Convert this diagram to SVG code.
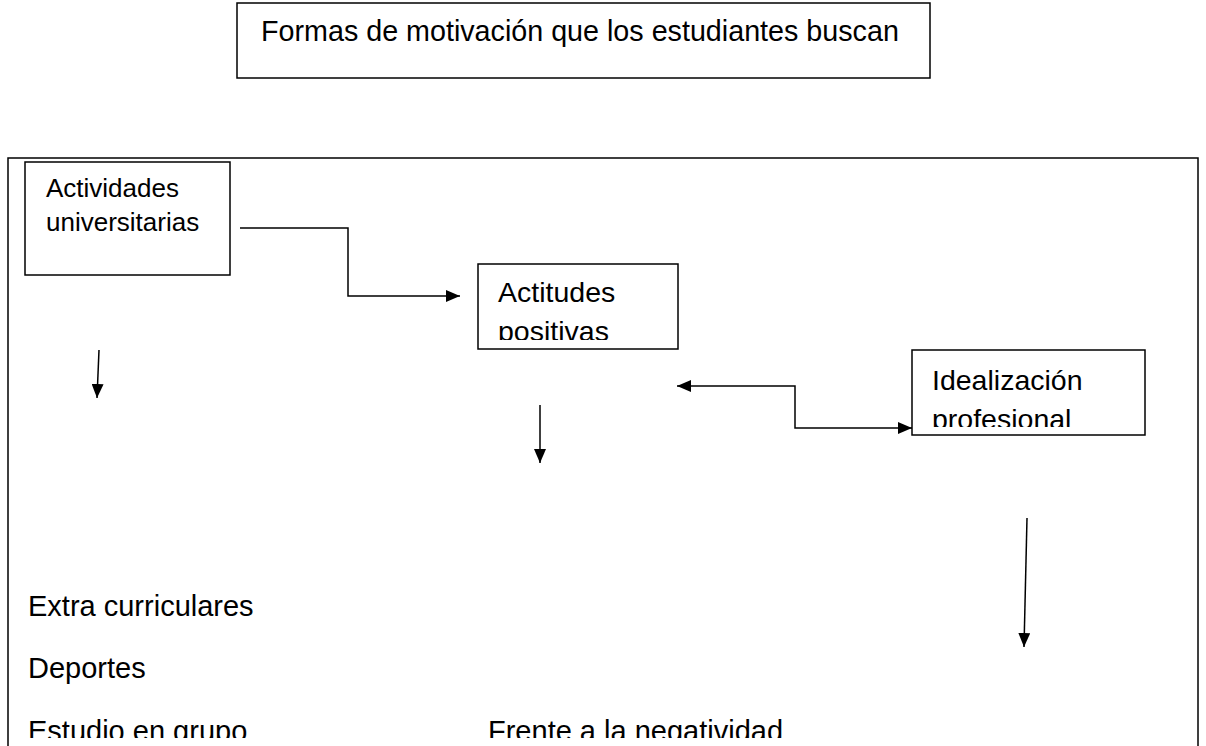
<svg xmlns="http://www.w3.org/2000/svg" width="1206" height="746" viewBox="0 0 1206 746">
<style>
.box{fill:#fff;stroke:#000;stroke-width:1.5}
.t{font-family:"Liberation Sans",Arial,sans-serif;fill:#000}
.c{fill:none;stroke:#000;stroke-width:1.5}
</style>
<defs>
<marker id="ah" viewBox="0 0 14 12" refX="14" refY="6" markerWidth="14" markerHeight="12" markerUnits="userSpaceOnUse" orient="auto-start-reverse"><path d="M0,0 L14,6 L0,12 z" fill="#000"/></marker>
<clipPath id="clipB"><rect x="478" y="264" width="200" height="76"/></clipPath>
<clipPath id="clipC"><rect x="912" y="350" width="233" height="77"/></clipPath>
<clipPath id="clipPage"><rect x="0" y="0" width="1206" height="738"/></clipPath>
</defs>
<rect width="1206" height="746" fill="#fff"/>
<g id="title">
<rect class="box" x="237" y="3" width="693" height="75"/>
<text class="t" x="261" y="41" font-size="28.7">Formas de motivación que los estudiantes buscan</text>
</g>
<g id="frame">
<rect class="box" x="8" y="158" width="1190" height="620" fill="none"/>
</g>
<g id="actividades">
<rect class="box" x="25" y="162" width="205" height="113"/>
<text class="t" x="46" y="197" font-size="26">Actividades</text>
<text class="t" x="46" y="231" font-size="26">universitarias</text>
</g>
<g id="actitudes">
<rect class="box" x="478" y="264" width="200" height="85"/>
<g clip-path="url(#clipB)">
<text class="t" x="498" y="302" font-size="28.5">Actitudes</text>
<text class="t" x="498" y="341" font-size="28.5">positivas</text>
</g>
</g>
<g id="idealizacion">
<rect class="box" x="912" y="350" width="233" height="85"/>
<g clip-path="url(#clipC)">
<text class="t" x="932" y="390" font-size="28.5">Idealización</text>
<text class="t" x="932" y="429" font-size="28.5">profesional</text>
</g>
</g>
<g id="lists" clip-path="url(#clipPage)">
<text class="t" x="28" y="616" font-size="29">Extra curriculares</text>
<text class="t" x="28" y="678" font-size="29">Deportes</text>
<text class="t" x="28" y="741" font-size="29">Estudio en grupo</text>
<text class="t" x="488" y="741" font-size="29">Frente a la negatividad</text>
</g>
<g id="connectors">
<polyline class="c" points="240,228 348,228 348,296 460,296" marker-end="url(#ah)"/>
<polyline class="c" points="677,386 795,386 795,428 912,428" marker-start="url(#ah)" marker-end="url(#ah)"/>
<line class="c" x1="99" y1="350" x2="97" y2="398" marker-end="url(#ah)"/>
<line class="c" x1="540" y1="405" x2="540" y2="463" marker-end="url(#ah)"/>
<line class="c" x1="1027" y1="518" x2="1024" y2="647" marker-end="url(#ah)"/>
</g>
</svg>
